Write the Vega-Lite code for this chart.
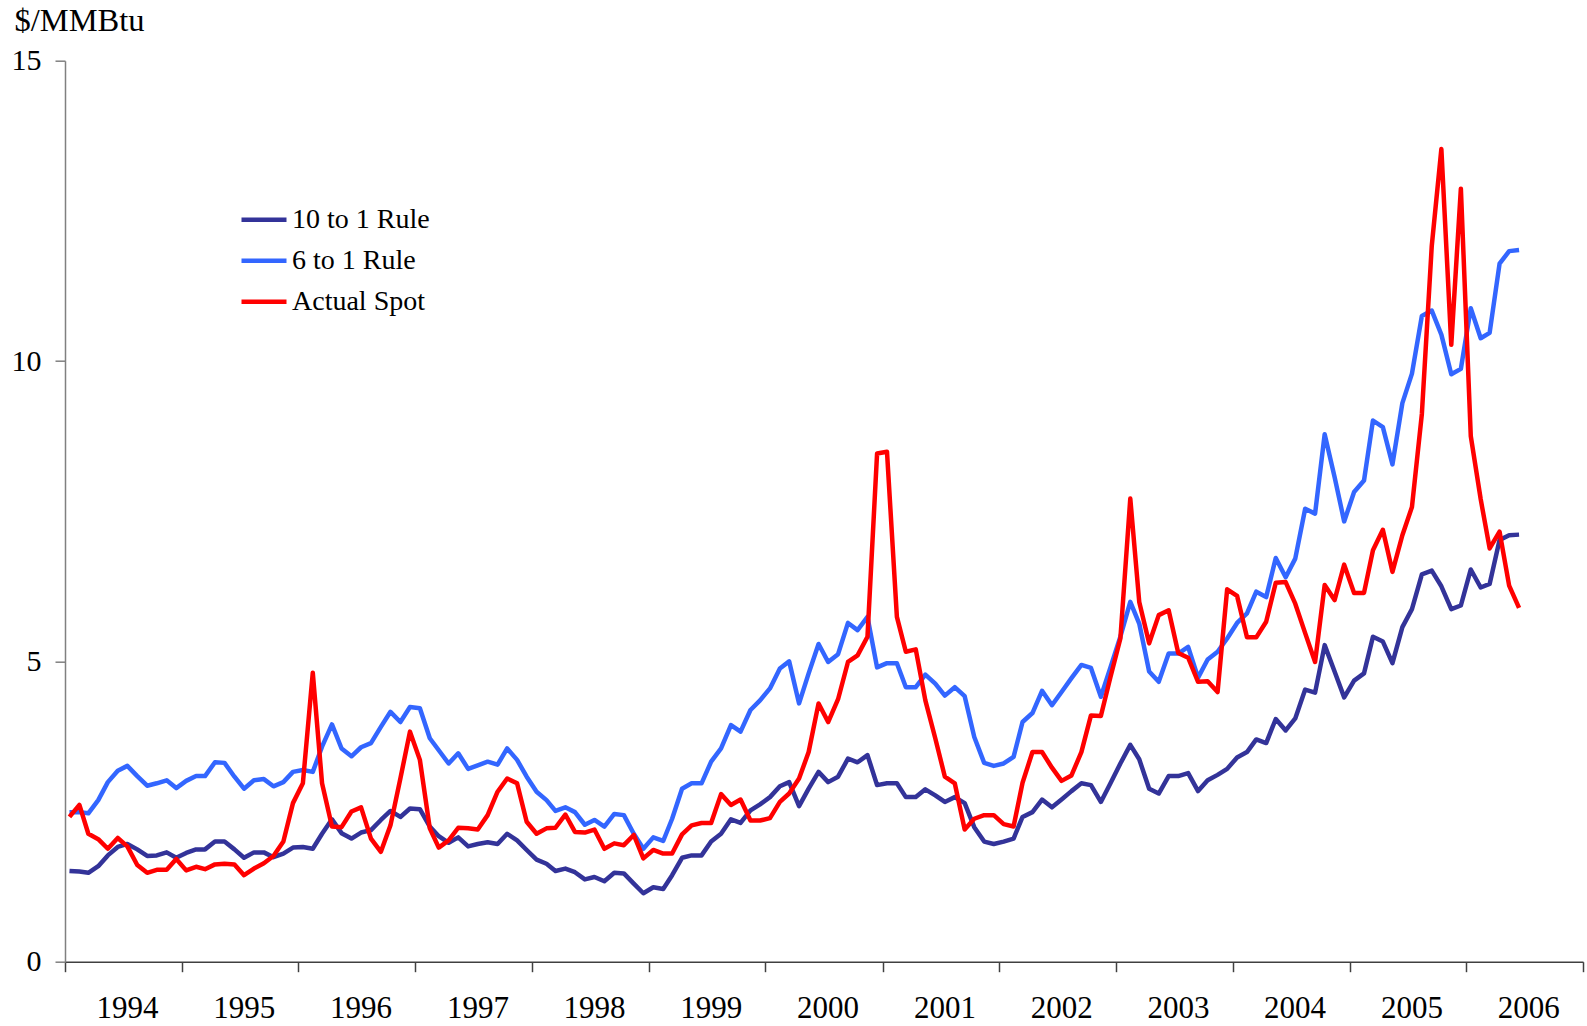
{
  "$schema": "https://vega.github.io/schema/vega-lite/v6.json",
  "width": 1518,
  "height": 901,
  "autosize": {"type": "none"},
  "padding": {"left": 65, "top": 60.7, "right": 4, "bottom": 64.3},
  "background": "white",
  "config": {
    "font": "Liberation Serif",
    "view": {"stroke": null}
  },
  "data": {
    "values": [
      {"date":"1994-01-15","10 to 1 Rule":1.51,"6 to 1 Rule":2.49,"Actual Spot":2.41},
      {"date":"1994-02-15","10 to 1 Rule":1.50,"6 to 1 Rule":2.49,"Actual Spot":2.61},
      {"date":"1994-03-15","10 to 1 Rule":1.48,"6 to 1 Rule":2.47,"Actual Spot":2.13},
      {"date":"1994-04-15","10 to 1 Rule":1.59,"6 to 1 Rule":2.69,"Actual Spot":2.04},
      {"date":"1994-05-15","10 to 1 Rule":1.77,"6 to 1 Rule":2.99,"Actual Spot":1.88},
      {"date":"1994-06-15","10 to 1 Rule":1.91,"6 to 1 Rule":3.18,"Actual Spot":2.06},
      {"date":"1994-07-15","10 to 1 Rule":1.96,"6 to 1 Rule":3.26,"Actual Spot":1.92},
      {"date":"1994-08-15","10 to 1 Rule":1.87,"6 to 1 Rule":3.09,"Actual Spot":1.61},
      {"date":"1994-09-15","10 to 1 Rule":1.76,"6 to 1 Rule":2.93,"Actual Spot":1.48},
      {"date":"1994-10-15","10 to 1 Rule":1.77,"6 to 1 Rule":2.97,"Actual Spot":1.53},
      {"date":"1994-11-15","10 to 1 Rule":1.82,"6 to 1 Rule":3.02,"Actual Spot":1.53},
      {"date":"1994-12-15","10 to 1 Rule":1.73,"6 to 1 Rule":2.89,"Actual Spot":1.71},
      {"date":"1995-01-15","10 to 1 Rule":1.81,"6 to 1 Rule":3.01,"Actual Spot":1.52},
      {"date":"1995-02-15","10 to 1 Rule":1.87,"6 to 1 Rule":3.09,"Actual Spot":1.58},
      {"date":"1995-03-15","10 to 1 Rule":1.87,"6 to 1 Rule":3.09,"Actual Spot":1.54},
      {"date":"1995-04-15","10 to 1 Rule":2.00,"6 to 1 Rule":3.32,"Actual Spot":1.62},
      {"date":"1995-05-15","10 to 1 Rule":2.00,"6 to 1 Rule":3.31,"Actual Spot":1.63},
      {"date":"1995-06-15","10 to 1 Rule":1.87,"6 to 1 Rule":3.08,"Actual Spot":1.62},
      {"date":"1995-07-15","10 to 1 Rule":1.73,"6 to 1 Rule":2.88,"Actual Spot":1.44},
      {"date":"1995-08-15","10 to 1 Rule":1.82,"6 to 1 Rule":3.02,"Actual Spot":1.55},
      {"date":"1995-09-15","10 to 1 Rule":1.82,"6 to 1 Rule":3.04,"Actual Spot":1.64},
      {"date":"1995-10-15","10 to 1 Rule":1.74,"6 to 1 Rule":2.92,"Actual Spot":1.76},
      {"date":"1995-11-15","10 to 1 Rule":1.80,"6 to 1 Rule":2.99,"Actual Spot":2.00},
      {"date":"1995-12-15","10 to 1 Rule":1.90,"6 to 1 Rule":3.16,"Actual Spot":2.64},
      {"date":"1996-01-15","10 to 1 Rule":1.91,"6 to 1 Rule":3.19,"Actual Spot":2.97},
      {"date":"1996-02-15","10 to 1 Rule":1.88,"6 to 1 Rule":3.16,"Actual Spot":4.81},
      {"date":"1996-03-15","10 to 1 Rule":2.13,"6 to 1 Rule":3.58,"Actual Spot":2.97},
      {"date":"1996-04-15","10 to 1 Rule":2.37,"6 to 1 Rule":3.95,"Actual Spot":2.25},
      {"date":"1996-05-15","10 to 1 Rule":2.14,"6 to 1 Rule":3.55,"Actual Spot":2.24},
      {"date":"1996-06-15","10 to 1 Rule":2.05,"6 to 1 Rule":3.42,"Actual Spot":2.50},
      {"date":"1996-07-15","10 to 1 Rule":2.15,"6 to 1 Rule":3.57,"Actual Spot":2.57},
      {"date":"1996-08-15","10 to 1 Rule":2.19,"6 to 1 Rule":3.64,"Actual Spot":2.05},
      {"date":"1996-09-15","10 to 1 Rule":2.36,"6 to 1 Rule":3.91,"Actual Spot":1.83},
      {"date":"1996-10-15","10 to 1 Rule":2.51,"6 to 1 Rule":4.16,"Actual Spot":2.27},
      {"date":"1996-11-15","10 to 1 Rule":2.41,"6 to 1 Rule":3.99,"Actual Spot":3.05},
      {"date":"1996-12-15","10 to 1 Rule":2.55,"6 to 1 Rule":4.24,"Actual Spot":3.83},
      {"date":"1997-01-15","10 to 1 Rule":2.54,"6 to 1 Rule":4.22,"Actual Spot":3.36},
      {"date":"1997-02-15","10 to 1 Rule":2.25,"6 to 1 Rule":3.72,"Actual Spot":2.22},
      {"date":"1997-03-15","10 to 1 Rule":2.09,"6 to 1 Rule":3.52,"Actual Spot":1.90},
      {"date":"1997-04-15","10 to 1 Rule":1.98,"6 to 1 Rule":3.30,"Actual Spot":2.02},
      {"date":"1997-05-15","10 to 1 Rule":2.07,"6 to 1 Rule":3.47,"Actual Spot":2.23},
      {"date":"1997-06-15","10 to 1 Rule":1.92,"6 to 1 Rule":3.21,"Actual Spot":2.22},
      {"date":"1997-07-15","10 to 1 Rule":1.96,"6 to 1 Rule":3.27,"Actual Spot":2.20},
      {"date":"1997-08-15","10 to 1 Rule":1.99,"6 to 1 Rule":3.33,"Actual Spot":2.44},
      {"date":"1997-09-15","10 to 1 Rule":1.96,"6 to 1 Rule":3.28,"Actual Spot":2.83},
      {"date":"1997-10-15","10 to 1 Rule":2.13,"6 to 1 Rule":3.55,"Actual Spot":3.05},
      {"date":"1997-11-15","10 to 1 Rule":2.02,"6 to 1 Rule":3.36,"Actual Spot":2.97},
      {"date":"1997-12-15","10 to 1 Rule":1.86,"6 to 1 Rule":3.08,"Actual Spot":2.33},
      {"date":"1998-01-15","10 to 1 Rule":1.70,"6 to 1 Rule":2.83,"Actual Spot":2.13},
      {"date":"1998-02-15","10 to 1 Rule":1.63,"6 to 1 Rule":2.69,"Actual Spot":2.22},
      {"date":"1998-03-15","10 to 1 Rule":1.51,"6 to 1 Rule":2.51,"Actual Spot":2.23},
      {"date":"1998-04-15","10 to 1 Rule":1.55,"6 to 1 Rule":2.57,"Actual Spot":2.45},
      {"date":"1998-05-15","10 to 1 Rule":1.49,"6 to 1 Rule":2.49,"Actual Spot":2.16},
      {"date":"1998-06-15","10 to 1 Rule":1.37,"6 to 1 Rule":2.28,"Actual Spot":2.15},
      {"date":"1998-07-15","10 to 1 Rule":1.41,"6 to 1 Rule":2.36,"Actual Spot":2.20},
      {"date":"1998-08-15","10 to 1 Rule":1.34,"6 to 1 Rule":2.25,"Actual Spot":1.88},
      {"date":"1998-09-15","10 to 1 Rule":1.48,"6 to 1 Rule":2.46,"Actual Spot":1.97},
      {"date":"1998-10-15","10 to 1 Rule":1.47,"6 to 1 Rule":2.44,"Actual Spot":1.94},
      {"date":"1998-11-15","10 to 1 Rule":1.30,"6 to 1 Rule":2.13,"Actual Spot":2.11},
      {"date":"1998-12-15","10 to 1 Rule":1.14,"6 to 1 Rule":1.88,"Actual Spot":1.72},
      {"date":"1999-01-15","10 to 1 Rule":1.24,"6 to 1 Rule":2.07,"Actual Spot":1.86},
      {"date":"1999-02-15","10 to 1 Rule":1.21,"6 to 1 Rule":2.01,"Actual Spot":1.80},
      {"date":"1999-03-15","10 to 1 Rule":1.44,"6 to 1 Rule":2.38,"Actual Spot":1.80},
      {"date":"1999-04-15","10 to 1 Rule":1.73,"6 to 1 Rule":2.88,"Actual Spot":2.12},
      {"date":"1999-05-15","10 to 1 Rule":1.77,"6 to 1 Rule":2.97,"Actual Spot":2.27},
      {"date":"1999-06-15","10 to 1 Rule":1.77,"6 to 1 Rule":2.97,"Actual Spot":2.31},
      {"date":"1999-07-15","10 to 1 Rule":2.00,"6 to 1 Rule":3.33,"Actual Spot":2.31},
      {"date":"1999-08-15","10 to 1 Rule":2.13,"6 to 1 Rule":3.55,"Actual Spot":2.79},
      {"date":"1999-09-15","10 to 1 Rule":2.37,"6 to 1 Rule":3.94,"Actual Spot":2.61},
      {"date":"1999-10-15","10 to 1 Rule":2.31,"6 to 1 Rule":3.83,"Actual Spot":2.70},
      {"date":"1999-11-15","10 to 1 Rule":2.52,"6 to 1 Rule":4.19,"Actual Spot":2.35},
      {"date":"1999-12-15","10 to 1 Rule":2.62,"6 to 1 Rule":4.35,"Actual Spot":2.35},
      {"date":"2000-01-15","10 to 1 Rule":2.74,"6 to 1 Rule":4.55,"Actual Spot":2.39},
      {"date":"2000-02-15","10 to 1 Rule":2.92,"6 to 1 Rule":4.88,"Actual Spot":2.66},
      {"date":"2000-03-15","10 to 1 Rule":2.99,"6 to 1 Rule":5.00,"Actual Spot":2.80},
      {"date":"2000-04-15","10 to 1 Rule":2.59,"6 to 1 Rule":4.30,"Actual Spot":3.05},
      {"date":"2000-05-15","10 to 1 Rule":2.88,"6 to 1 Rule":4.80,"Actual Spot":3.49},
      {"date":"2000-06-15","10 to 1 Rule":3.16,"6 to 1 Rule":5.29,"Actual Spot":4.30},
      {"date":"2000-07-15","10 to 1 Rule":2.99,"6 to 1 Rule":4.99,"Actual Spot":3.99},
      {"date":"2000-08-15","10 to 1 Rule":3.08,"6 to 1 Rule":5.12,"Actual Spot":4.37},
      {"date":"2000-09-15","10 to 1 Rule":3.38,"6 to 1 Rule":5.64,"Actual Spot":4.99},
      {"date":"2000-10-15","10 to 1 Rule":3.32,"6 to 1 Rule":5.52,"Actual Spot":5.10},
      {"date":"2000-11-15","10 to 1 Rule":3.44,"6 to 1 Rule":5.74,"Actual Spot":5.41},
      {"date":"2000-12-15","10 to 1 Rule":2.94,"6 to 1 Rule":4.90,"Actual Spot":8.46},
      {"date":"2001-01-15","10 to 1 Rule":2.97,"6 to 1 Rule":4.97,"Actual Spot":8.49},
      {"date":"2001-02-15","10 to 1 Rule":2.97,"6 to 1 Rule":4.97,"Actual Spot":5.74},
      {"date":"2001-03-15","10 to 1 Rule":2.74,"6 to 1 Rule":4.57,"Actual Spot":5.16},
      {"date":"2001-04-15","10 to 1 Rule":2.74,"6 to 1 Rule":4.57,"Actual Spot":5.20},
      {"date":"2001-05-15","10 to 1 Rule":2.87,"6 to 1 Rule":4.78,"Actual Spot":4.35},
      {"date":"2001-06-15","10 to 1 Rule":2.77,"6 to 1 Rule":4.63,"Actual Spot":3.72},
      {"date":"2001-07-15","10 to 1 Rule":2.66,"6 to 1 Rule":4.43,"Actual Spot":3.08},
      {"date":"2001-08-15","10 to 1 Rule":2.74,"6 to 1 Rule":4.57,"Actual Spot":2.97},
      {"date":"2001-09-15","10 to 1 Rule":2.64,"6 to 1 Rule":4.42,"Actual Spot":2.20},
      {"date":"2001-10-15","10 to 1 Rule":2.24,"6 to 1 Rule":3.74,"Actual Spot":2.38},
      {"date":"2001-11-15","10 to 1 Rule":2.00,"6 to 1 Rule":3.31,"Actual Spot":2.44},
      {"date":"2001-12-15","10 to 1 Rule":1.96,"6 to 1 Rule":3.26,"Actual Spot":2.44},
      {"date":"2002-01-15","10 to 1 Rule":2.00,"6 to 1 Rule":3.30,"Actual Spot":2.29},
      {"date":"2002-02-15","10 to 1 Rule":2.05,"6 to 1 Rule":3.41,"Actual Spot":2.25},
      {"date":"2002-03-15","10 to 1 Rule":2.41,"6 to 1 Rule":3.99,"Actual Spot":2.98},
      {"date":"2002-04-15","10 to 1 Rule":2.49,"6 to 1 Rule":4.14,"Actual Spot":3.49},
      {"date":"2002-05-15","10 to 1 Rule":2.70,"6 to 1 Rule":4.51,"Actual Spot":3.49},
      {"date":"2002-06-15","10 to 1 Rule":2.57,"6 to 1 Rule":4.27,"Actual Spot":3.23},
      {"date":"2002-07-15","10 to 1 Rule":2.70,"6 to 1 Rule":4.49,"Actual Spot":3.01},
      {"date":"2002-08-15","10 to 1 Rule":2.84,"6 to 1 Rule":4.72,"Actual Spot":3.10},
      {"date":"2002-09-15","10 to 1 Rule":2.97,"6 to 1 Rule":4.94,"Actual Spot":3.49},
      {"date":"2002-10-15","10 to 1 Rule":2.94,"6 to 1 Rule":4.89,"Actual Spot":4.10},
      {"date":"2002-11-15","10 to 1 Rule":2.66,"6 to 1 Rule":4.41,"Actual Spot":4.09},
      {"date":"2002-12-15","10 to 1 Rule":2.97,"6 to 1 Rule":4.90,"Actual Spot":4.74},
      {"date":"2003-01-15","10 to 1 Rule":3.30,"6 to 1 Rule":5.41,"Actual Spot":5.38},
      {"date":"2003-02-15","10 to 1 Rule":3.61,"6 to 1 Rule":5.99,"Actual Spot":7.71},
      {"date":"2003-03-15","10 to 1 Rule":3.37,"6 to 1 Rule":5.63,"Actual Spot":5.99},
      {"date":"2003-04-15","10 to 1 Rule":2.88,"6 to 1 Rule":4.83,"Actual Spot":5.30},
      {"date":"2003-05-15","10 to 1 Rule":2.80,"6 to 1 Rule":4.66,"Actual Spot":5.77},
      {"date":"2003-06-15","10 to 1 Rule":3.09,"6 to 1 Rule":5.13,"Actual Spot":5.85},
      {"date":"2003-07-15","10 to 1 Rule":3.09,"6 to 1 Rule":5.13,"Actual Spot":5.14},
      {"date":"2003-08-15","10 to 1 Rule":3.14,"6 to 1 Rule":5.24,"Actual Spot":5.06},
      {"date":"2003-09-15","10 to 1 Rule":2.84,"6 to 1 Rule":4.73,"Actual Spot":4.66},
      {"date":"2003-10-15","10 to 1 Rule":3.02,"6 to 1 Rule":5.03,"Actual Spot":4.67},
      {"date":"2003-11-15","10 to 1 Rule":3.11,"6 to 1 Rule":5.16,"Actual Spot":4.49},
      {"date":"2003-12-15","10 to 1 Rule":3.21,"6 to 1 Rule":5.38,"Actual Spot":6.20},
      {"date":"2004-01-15","10 to 1 Rule":3.40,"6 to 1 Rule":5.64,"Actual Spot":6.09},
      {"date":"2004-02-15","10 to 1 Rule":3.49,"6 to 1 Rule":5.80,"Actual Spot":5.40},
      {"date":"2004-03-15","10 to 1 Rule":3.70,"6 to 1 Rule":6.16,"Actual Spot":5.40},
      {"date":"2004-04-15","10 to 1 Rule":3.64,"6 to 1 Rule":6.07,"Actual Spot":5.66},
      {"date":"2004-05-15","10 to 1 Rule":4.04,"6 to 1 Rule":6.72,"Actual Spot":6.31},
      {"date":"2004-06-15","10 to 1 Rule":3.85,"6 to 1 Rule":6.40,"Actual Spot":6.32},
      {"date":"2004-07-15","10 to 1 Rule":4.05,"6 to 1 Rule":6.71,"Actual Spot":5.96},
      {"date":"2004-08-15","10 to 1 Rule":4.53,"6 to 1 Rule":7.54,"Actual Spot":5.47},
      {"date":"2004-09-15","10 to 1 Rule":4.48,"6 to 1 Rule":7.46,"Actual Spot":4.99},
      {"date":"2004-10-15","10 to 1 Rule":5.27,"6 to 1 Rule":8.78,"Actual Spot":6.27},
      {"date":"2004-11-15","10 to 1 Rule":4.83,"6 to 1 Rule":8.07,"Actual Spot":6.02},
      {"date":"2004-12-15","10 to 1 Rule":4.40,"6 to 1 Rule":7.33,"Actual Spot":6.61},
      {"date":"2005-01-15","10 to 1 Rule":4.68,"6 to 1 Rule":7.82,"Actual Spot":6.14},
      {"date":"2005-02-15","10 to 1 Rule":4.80,"6 to 1 Rule":8.01,"Actual Spot":6.14},
      {"date":"2005-03-15","10 to 1 Rule":5.41,"6 to 1 Rule":9.01,"Actual Spot":6.85},
      {"date":"2005-04-15","10 to 1 Rule":5.33,"6 to 1 Rule":8.90,"Actual Spot":7.19},
      {"date":"2005-05-15","10 to 1 Rule":4.97,"6 to 1 Rule":8.28,"Actual Spot":6.49},
      {"date":"2005-06-15","10 to 1 Rule":5.57,"6 to 1 Rule":9.30,"Actual Spot":7.10},
      {"date":"2005-07-15","10 to 1 Rule":5.87,"6 to 1 Rule":9.79,"Actual Spot":7.57},
      {"date":"2005-08-15","10 to 1 Rule":6.45,"6 to 1 Rule":10.75,"Actual Spot":9.12},
      {"date":"2005-09-15","10 to 1 Rule":6.51,"6 to 1 Rule":10.84,"Actual Spot":11.92},
      {"date":"2005-10-15","10 to 1 Rule":6.25,"6 to 1 Rule":10.44,"Actual Spot":13.53},
      {"date":"2005-11-15","10 to 1 Rule":5.87,"6 to 1 Rule":9.78,"Actual Spot":10.27},
      {"date":"2005-12-15","10 to 1 Rule":5.93,"6 to 1 Rule":9.87,"Actual Spot":12.87},
      {"date":"2006-01-15","10 to 1 Rule":6.53,"6 to 1 Rule":10.88,"Actual Spot":8.75},
      {"date":"2006-02-15","10 to 1 Rule":6.23,"6 to 1 Rule":10.38,"Actual Spot":7.70},
      {"date":"2006-03-15","10 to 1 Rule":6.29,"6 to 1 Rule":10.47,"Actual Spot":6.88},
      {"date":"2006-04-15","10 to 1 Rule":7.02,"6 to 1 Rule":11.62,"Actual Spot":7.16},
      {"date":"2006-05-15","10 to 1 Rule":7.10,"6 to 1 Rule":11.83,"Actual Spot":6.26},
      {"date":"2006-06-15","10 to 1 Rule":7.11,"6 to 1 Rule":11.85,"Actual Spot":5.89}
    ]
  },
  "transform": [
    {"fold": ["10 to 1 Rule", "6 to 1 Rule", "Actual Spot"], "as": ["series", "price"]}
  ],
  "mark": {"type": "line", "strokeWidth": 4.5, "strokeJoin": "round", "clip": false},
  "encoding": {
    "x": {
      "field": "date",
      "type": "temporal",
      "scale": {
        "type": "utc",
        "domain": [
          {"year": 1994, "month": 1, "date": 1, "utc": true},
          {"year": 2007, "month": 1, "date": 1, "utc": true}
        ]
      },
      "axis": {
        "title": null,
        "values": [
          {"year": 1994, "month": 1, "date": 1, "utc": true},
          {"year": 1995, "month": 1, "date": 1, "utc": true},
          {"year": 1996, "month": 1, "date": 1, "utc": true},
          {"year": 1997, "month": 1, "date": 1, "utc": true},
          {"year": 1998, "month": 1, "date": 1, "utc": true},
          {"year": 1999, "month": 1, "date": 1, "utc": true},
          {"year": 2000, "month": 1, "date": 1, "utc": true},
          {"year": 2001, "month": 1, "date": 1, "utc": true},
          {"year": 2002, "month": 1, "date": 1, "utc": true},
          {"year": 2003, "month": 1, "date": 1, "utc": true},
          {"year": 2004, "month": 1, "date": 1, "utc": true},
          {"year": 2005, "month": 1, "date": 1, "utc": true},
          {"year": 2006, "month": 1, "date": 1, "utc": true},
          {"year": 2007, "month": 1, "date": 1, "utc": true}
        ],
        "labelExpr": "utcyear(datum.value) < 2007 ? utcFormat(datum.value, '%Y') : ''",
        "labelOffset": 62,
        "labelFlush": false,
        "labelOverlap": false,
        "labelBound": false,
        "labelFontSize": 31,
        "labelColor": "#000000",
        "labelPadding": 22,
        "tickSize": 10,
        "tickColor": "#404040",
        "domainColor": "#404040",
        "domainWidth": 1.5,
        "tickWidth": 1.5,
        "grid": false
      }
    },
    "y": {
      "field": "price",
      "type": "quantitative",
      "scale": {"domain": [0, 15], "nice": false, "zero": true},
      "axis": {
        "values": [0, 5, 10, 15],
        "title": "$/MMBtu",
        "titleAngle": 0,
        "titleAlign": "left",
        "titleBaseline": "middle",
        "titleX": -51,
        "titleY": -40,
        "titleFontSize": 32.5,
        "titleFontWeight": "normal",
        "titleColor": "#000000",
        "labelFontSize": 30,
        "labelColor": "#000000",
        "labelPadding": 14,
        "tickSize": 10,
        "tickColor": "#808080",
        "domainColor": "#808080",
        "domainWidth": 1.5,
        "tickWidth": 1.5,
        "grid": false
      }
    },
    "color": {
      "field": "series",
      "type": "nominal",
      "sort": ["10 to 1 Rule", "6 to 1 Rule", "Actual Spot"],
      "scale": {
        "domain": ["10 to 1 Rule", "6 to 1 Rule", "Actual Spot"],
        "range": ["#333399", "#3366FF", "#FF0000"]
      },
      "legend": {
        "title": null,
        "orient": "none",
        "legendX": 174,
        "legendY": 134,
        "padding": 0,
        "symbolType": "stroke",
        "symbolSize": 2025,
        "symbolStrokeWidth": 4.5,
        "labelFontSize": 28,
        "labelColor": "#000000",
        "labelOffset": 3,
        "rowPadding": 2
      }
    }
  }
}
